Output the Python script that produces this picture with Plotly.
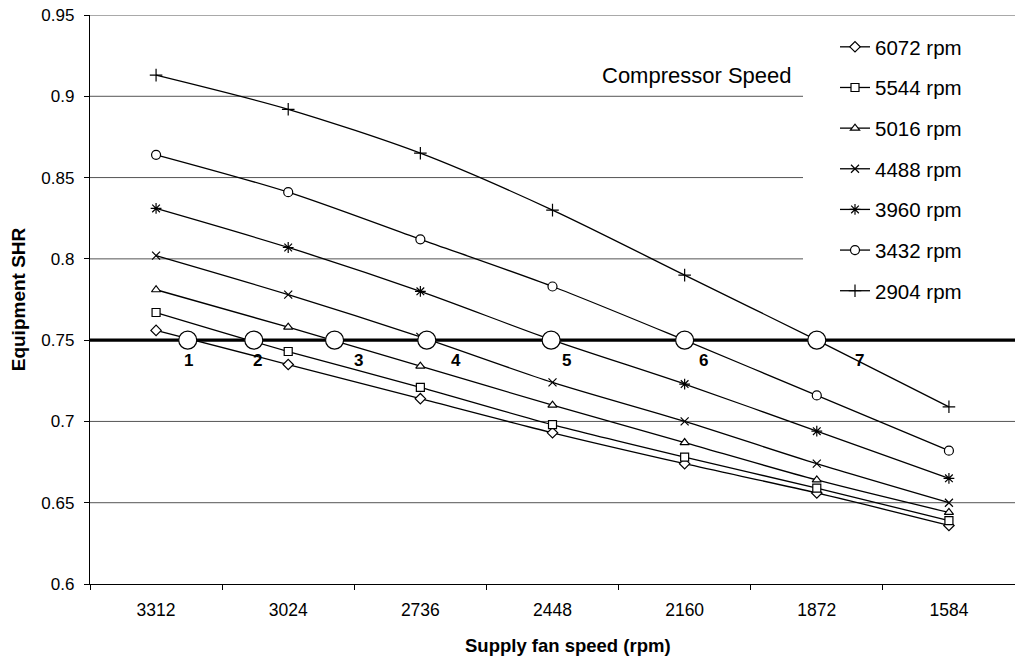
import plotly.graph_objects as go

# Supply fan speed categories (rpm), left to right
fan_speeds = ["3312", "3024", "2736", "2448", "2160", "1872", "1584"]

# Equipment SHR for each compressor speed
shr_6072 = [0.756, 0.735, 0.714, 0.693, 0.674, 0.656, 0.636]
shr_5544 = [0.767, 0.743, 0.721, 0.698, 0.678, 0.659, 0.639]
shr_5016 = [0.781, 0.758, 0.734, 0.710, 0.687, 0.664, 0.644]
shr_4488 = [0.802, 0.778, 0.752, 0.724, 0.700, 0.674, 0.650]
shr_3960 = [0.831, 0.807, 0.780, 0.750, 0.723, 0.694, 0.665]
shr_3432 = [0.864, 0.841, 0.812, 0.783, 0.750, 0.716, 0.682]
shr_2904 = [0.913, 0.892, 0.865, 0.830, 0.790, 0.750, 0.709]

compressor_labels = ["6072 rpm", "5544 rpm", "5016 rpm", "4488 rpm",
                     "3960 rpm", "3432 rpm", "2904 rpm"]

# Required SHR and the fan speeds (rpm) where each curve meets it
target_shr = 0.75
crossing_rpm = [3243, 3099, 2923, 2722, 2451, 2160, 1872]
crossing_labels = ["1", "2", "3", "4", "5", "6", "7"]

y_ticks = [0.6, 0.65, 0.7, 0.75, 0.8, 0.85, 0.9, 0.95]

FONT = "Liberation Sans"
W, H = 1015, 661
M_L, M_R, M_T, M_B = 90, 0, 15, 77
PW, PH = W - M_L - M_R, H - M_T - M_B


def px_x(px):
    """Horizontal pixel position -> plot-domain fraction."""
    return (px - M_L) / PW


def px_y(py):
    """Vertical pixel position -> plot-domain fraction."""
    return (H - M_B - py) / PH


x_idx = list(range(len(fan_speeds)))
fan_step = int(fan_speeds[0]) - int(fan_speeds[1])


def rpm_to_idx(rpm):
    return (int(fan_speeds[0]) - rpm) / fan_step


series = [shr_6072, shr_5544, shr_5016, shr_4488, shr_3960, shr_3432, shr_2904]
symbols = ["diamond", "square", "triangle-up", "x-thin", "asterisk",
           "circle", "cross-thin"]
sizes = [8, 8, 8, 8, 9, 9, 9]

fig = go.Figure()

# Horizontal gridlines; those beside the legend stop short of its panel
for v in y_ticks[1:]:
    if v == target_shr:
        continue
    beside_legend = target_shr < v < y_ticks[-1]
    fig.add_shape(
        type="line", xref="x domain", yref="y", layer="below",
        x0=0, x1=px_x(803) if beside_legend else 1.0, y0=v, y1=v,
        line=dict(color="#555555", width=1),
    )

for vals, name, sym, sz in zip(series, compressor_labels, symbols, sizes):
    fig.add_trace(go.Scatter(
        x=x_idx, y=vals, name=name, mode="lines+markers",
        line=dict(color="black", width=1.3, shape="spline", smoothing=0.8),
        marker=dict(symbol=sym, size=sz, color="white",
                    line=dict(color="black", width=1.2)),
        legendgroup=name,
    ))

# Required SHR line across the full plot width
fig.add_trace(go.Scatter(
    x=[-0.5, len(fan_speeds) - 0.5], y=[target_shr, target_shr],
    mode="lines", line=dict(color="black", width=3.2),
    showlegend=False, hoverinfo="skip",
))

# Operating points where each compressor curve meets the required SHR
cross_x = [rpm_to_idx(r) for r in crossing_rpm]
fig.add_trace(go.Scatter(
    x=cross_x, y=[target_shr] * len(cross_x), mode="markers",
    marker=dict(symbol="circle", size=18, color="white",
                line=dict(color="black", width=1.2)),
    showlegend=False, hoverinfo="skip",
))

label_shift = [1, 4, 24, 29, 15, 19, 43]
for xv, txt, dx in zip(cross_x, crossing_labels, label_shift):
    fig.add_annotation(
        x=xv, y=target_shr, text=txt, showarrow=False,
        xshift=dx, yshift=-20,
        font=dict(family=FONT, size=17, color="black", weight="bold"),
    )

# Legend heading
fig.add_annotation(
    x=px_x(697), y=px_y(61), xref="x domain", yref="y domain",
    text="Compressor Speed", showarrow=False,
    font=dict(family=FONT, size=22, color="black"),
)

# X-axis title
fig.add_annotation(
    x=px_x(568), y=px_y(645), xref="x domain", yref="y domain",
    xanchor="center", yanchor="middle",
    text="Supply fan speed (rpm)", showarrow=False,
    font=dict(family=FONT, size=18.5, color="black", weight="bold"),
)

fig.update_layout(
    width=W, height=H,
    margin=dict(l=M_L, r=M_R, t=M_T, b=M_B, pad=0),
    paper_bgcolor="white", plot_bgcolor="white",
    font=dict(family=FONT, color="black"),
    showlegend=True,
    legend=dict(
        x=px_x(835), y=px_y(27),
        xanchor="left", yanchor="top",
        bgcolor="rgba(0,0,0,0)", borderwidth=0,
        font=dict(family=FONT, size=20.5, color="black"),
        tracegroupgap=11, itemwidth=30,
    ),
    xaxis=dict(
        range=[-0.5, len(fan_speeds) - 0.5],
        tickmode="array", tickvals=x_idx, ticktext=fan_speeds,
        ticks="", showgrid=False, zeroline=False,
        showline=True, linecolor="black", linewidth=1.3,
        tickfont=dict(family=FONT, size=17.5, color="black"),
        ticklabelstandoff=10,
        minor=dict(tickvals=[i - 0.5 for i in range(len(fan_speeds) + 1)],
                   ticks="outside", ticklen=5, tickcolor="black",
                   showgrid=False),
        automargin=False,
    ),
    yaxis=dict(
        range=[0.6, 0.95],
        tickmode="array", tickvals=y_ticks,
        ticktext=[f"{v:g}" for v in y_ticks],
        ticks="outside", ticklen=5, tickcolor="black",
        showgrid=False,
        zeroline=False, showline=True, linecolor="black", linewidth=1.3,
        tickfont=dict(family=FONT, size=17, color="black"),
        ticklabelstandoff=6,
        title=dict(text="Equipment SHR", standoff=10,
                   font=dict(family=FONT, size=19, color="black",
                             weight="bold")),
        automargin=False,
    ),
)

fig.write_html("out.html")
